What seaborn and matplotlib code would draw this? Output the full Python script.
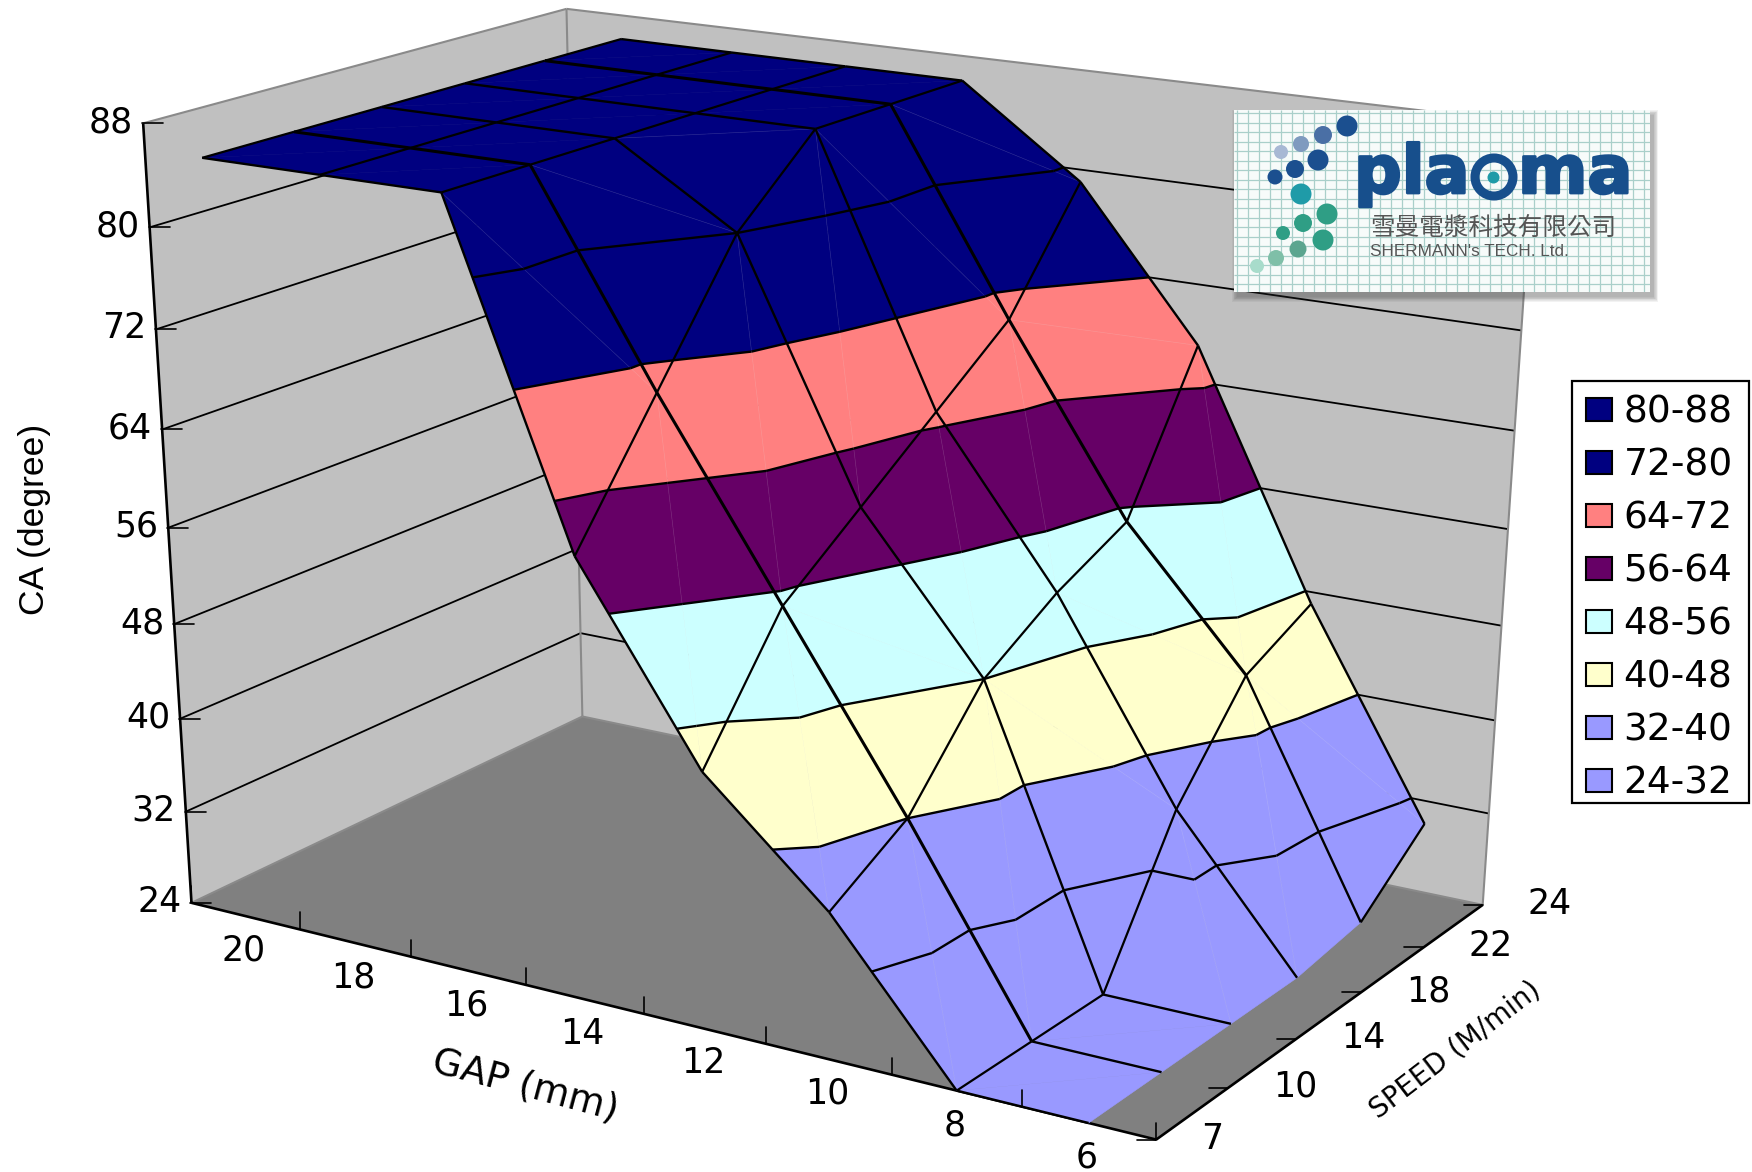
import numpy as np
import matplotlib
matplotlib.use("Agg")
import matplotlib.pyplot as plt
import matplotlib.patheffects as pe
import seaborn as sns
from matplotlib.lines import Line2D
from matplotlib.patches import Patch, Rectangle, Circle
from mpl_toolkits.mplot3d.art3d import Poly3DCollection, Line3DCollection

# ---------- data ----------
gap_labels = ["20", "18", "16", "14", "12", "10", "8", "6"]
speed_labels = ["7", "10", "14", "18", "22", "24"]
z_ticks = [24, 32, 40, 48, 56, 64, 72, 80, 88]
ca_gap20 = [86, 86, 86, 86, 86, 86]
ca_gap18 = [86, 86, 86, 86, 86, 86]
ca_gap16 = [86, 86, 86, 86, 86, 86]
ca_gap14 = [60, 70, 80, 86, 86, 86]
ca_gap12 = [45, 55, 60, 65, 70, 79]
ca_gap10 = [36, 40, 48, 52, 55, 67]
ca_gap8 = [24, 24, 24, 36, 44, 47]
ca_gap6 = [24, 24, 24, 24, 25, 30]
band_edges = [24, 32, 40, 48, 56, 64, 72, 80, 88]
band_labels = ["24-32", "32-40", "40-48", "48-56", "56-64", "64-72", "72-80", "80-88"]
band_hex = ["#9999FF", "#9999FF", "#FFFFCC", "#CCFFFF", "#660066", "#FF8080", "#000080", "#000080"]
# cells of the mesh whose split runs along the other diagonal
anti_cells = {(3, 0), (3, 1), (3, 2), (4, 0), (4, 2), (4, 3), (5, 0), (5, 1), (5, 4), (6, 2), (6, 3)}

sns.set_theme(style="white")
plt.rcParams["font.family"] = ["DejaVu Sans"]
plt.rcParams["text.color"] = "black"
palette = sns.color_palette(band_hex)

W, H = 1752, 1172
fig = plt.figure(figsize=(W / 100, H / 100), dpi=100, facecolor="white")
ax = fig.add_axes([0, -290 / H, 1, W / H], projection="3d", computed_zorder=False)
ax.set_axis_off()
ax.viewLim.intervalx = (0, W)
ax.viewLim.intervaly = (H + 290, -290)

# camera of the original chart: (category x, series y, value z) -> picture pixels
CAM = np.array([
    [0.08439775573498236, 0.07418679600656676, -0.00074465875556180726, 0.17334112370659693],
    [0.01071031469504651, -0.017074316337836227, -0.010002344970270505, 0.9730668587845146],
    [-1.168548023596937e-05, 1.8397452072643904e-05, -9.183627093639086e-07, 0.0008339408072271929]])
M = np.vstack([CAM[0], CAM[1], CAM[2] - np.array([0, 0, 0, 1e-3]), CAM[2]])
ax.get_proj = lambda: M


def px(x, y, z):
    q = CAM @ np.array([x, y, z, 1.0])
    return q[0] / q[2], q[1] / q[2]


XMAX, YMAX = 8, 5
ZLO, ZHI = z_ticks[0], z_ticks[-1]

# ---------- walls and floor ----------
A, B, C, D = (0, 0, ZLO), (XMAX, 0, ZLO), (XMAX, YMAX, ZLO), (0, YMAX, ZLO)
At, Ct, Dt = (0, 0, ZHI), (XMAX, YMAX, ZHI), (0, YMAX, ZHI)
ax.add_collection3d(Poly3DCollection([[A, D, Dt, At], [D, C, Ct, Dt]], facecolors="#C0C0C0",
                                     edgecolors="none", zorder=1))
ax.add_collection3d(Poly3DCollection([[A, B, C, D]], facecolors="#808080", edgecolors="none", zorder=1))
grid = []
for z in z_ticks[1:-1]:
    grid += [[(0, 0, z), (0, YMAX, z)], [(0, YMAX, z), (XMAX, YMAX, z)]]
ax.add_collection3d(Line3DCollection(grid, colors="black", linewidths=1.3, zorder=2))
ax.add_collection3d(Line3DCollection([[At, Dt], [Dt, Ct], [D, Dt], [C, Ct], [A, D], [D, C]],
                                     colors="#8A8A8A", linewidths=1.5, zorder=2))
ax.add_collection3d(Line3DCollection([[A, At], [A, B], [B, C]], colors="black", linewidths=1.9, zorder=2))

# ---------- surface ----------
Z = np.array([ca_gap20, ca_gap18, ca_gap16, ca_gap14, ca_gap12, ca_gap10, ca_gap8, ca_gap6], float)
nL, nS = Z.shape
xs = np.arange(nL) + 0.5
ys = np.arange(nS, dtype=float)


def vertex(i, j):
    return np.array([xs[i], ys[j], Z[i, j]])


tris, diag = [], []
for i in range(nL - 1):
    for j in range(nS - 1):
        a, b, c, d = vertex(i, j), vertex(i + 1, j), vertex(i + 1, j + 1), vertex(i, j + 1)
        sloped = np.ptp(Z[i:i + 2, j:j + 2]) > 0
        if (i, j) in anti_cells:
            tris += [[a, b, d], [b, c, d]]
            if sloped:
                diag.append([tuple(b), tuple(d)])
        else:
            tris += [[a, b, c], [a, c, d]]
            if sloped:
                diag.append([tuple(a), tuple(c)])


def clip(poly, level, keep_above):
    out = []
    n = len(poly)
    for k in range(n):
        p, q = poly[k], poly[(k + 1) % n]
        dp = (p[2] - level) if keep_above else (level - p[2])
        dq = (q[2] - level) if keep_above else (level - q[2])
        if dp >= 0:
            out.append(p)
        if dp * dq < 0:
            out.append(p + (q - p) * dp / (dp - dq))
    return out


polys, faces = [], []
for tri in tris:
    for b in range(len(band_labels)):
        poly = clip(clip(tri, band_edges[b], True), band_edges[b + 1], False)
        if len(poly) >= 3:
            polys.append([tuple(v) for v in poly])
            faces.append(palette[b])
ax.add_collection3d(Poly3DCollection(polys, facecolors=faces, edgecolors=faces, linewidths=0.4, zorder=3))

contours = []
for tri in tris:
    for lev in band_edges[1:-1]:
        pts = []
        for k in range(3):
            p, q = tri[k], tri[(k + 1) % 3]
            dp, dq = p[2] - lev - 1e-6, q[2] - lev - 1e-6
            if dp * dq < 0:
                pts.append(tuple(p + (q - p) * dp / (dp - dq)))
        if len(pts) == 2:
            contours.append(pts)

# the two rows drawn heavier in the original, over the sloped part of the surface
is_heavy = lambda i, j: j in (1, 4) and i <= 5
along_gap = [[tuple(vertex(i, j)), tuple(vertex(i + 1, j))] for j in range(nS) for i in range(nL - 1)
             if not is_heavy(i, j)]
along_gap_heavy = [[tuple(vertex(i, j)), tuple(vertex(i + 1, j))] for j in range(nS) for i in range(nL - 1)
                   if is_heavy(i, j)]
along_speed = [[tuple(vertex(i, j)), tuple(vertex(i, j + 1))] for i in range(nL - 1) for j in range(nS - 1)]
along_speed.append([tuple(vertex(nL - 1, 4)), tuple(vertex(nL - 1, 5))])
ax.add_collection3d(Line3DCollection(diag, colors=[(1, 1, 1, 0.13)], linewidths=0.5, zorder=3.5))
ax.add_collection3d(Line3DCollection(contours, colors="black", linewidths=1.7, zorder=4))
ax.add_collection3d(Line3DCollection(along_gap, colors="black", linewidths=1.7, zorder=4))
ax.add_collection3d(Line3DCollection(along_gap_heavy, colors="black", linewidths=2.2, zorder=4))
ax.add_collection3d(Line3DCollection(along_speed, colors="black", linewidths=1.6, zorder=4))


# ---------- ticks and labels ----------
def tick(x0, y0, x1, y1):
    ax.add_artist(Line2D([x0, x1], [y0, y1], color="black", lw=1.2, transform=ax.transData, zorder=4.2))


TICK_SIZE = 25
for z in z_ticks:
    u, v = px(0, 0, z)
    tick(u - 1, v, u + 20, v)
    ax.text2D(u - 10, v - 1, str(z), transform=ax.transData, ha="right", va="center", fontsize=TICK_SIZE)
for k in range(XMAX + 1):
    u, v = px(k, 0, ZLO)
    tick(u, v, u, v - 17)
for k, lab in enumerate(gap_labels):
    u, v = px(k + 0.5, 0, ZLO)
    ax.text2D(u - 2, v + 34.5, lab, transform=ax.transData, ha="center", va="center", fontsize=TICK_SIZE)
for k, lab in enumerate(speed_labels):
    u, v = px(XMAX, k, ZLO)
    tick(u, v, u - 19, v)
    ax.text2D(u + 45, v - 1, lab, transform=ax.transData, ha="left", va="center", fontsize=TICK_SIZE)

ax.text2D(35, 519, "CA (degree)", transform=ax.transData, rotation=90, ha="center", va="center",
          fontsize=25.5, family=["Liberation Sans", "DejaVu Sans"])
ax.text2D(525, 1086, "GAP (mm)", transform=ax.transData, rotation=-15, ha="center", va="center", fontsize=27,
          rotation_mode="anchor")
ax.text2D(1455, 1050, "SPEED (M/min)", transform=ax.transData, rotation=37.5, ha="center", va="center", fontsize=20,
          rotation_mode="anchor")

# ---------- legend ----------
fig.add_artist(Rectangle((1572, H - 803), 177, 422, transform=None, facecolor="white", edgecolor="black",
                         linewidth=1.6, zorder=9))
handles = [Patch(facecolor=palette[b], edgecolor="black", linewidth=1.5) for b in range(len(band_labels))][::-1]
leg = fig.legend(handles, band_labels[::-1], loc="upper left", bbox_to_anchor=(1586 / W, 1 - 394.5 / H),
                 bbox_transform=fig.transFigure, borderaxespad=0, frameon=False, fontsize=27, handlelength=0.7,
                 handleheight=0.56, handletextpad=0.3, labelspacing=0.453, borderpad=0)
leg.set_zorder(10)

# ---------- logo ----------
L0, L1, T0, T1 = 1234, 1650, 110, 291.7
for k in range(7):
    m = 1 + k * 1.5
    fig.add_artist(Rectangle((L0 + 3 - m / 2, H - T1 - 5 - m / 2), L1 - L0 + m, T1 - T0 + m, transform=None,
                             facecolor="#303030", edgecolor="none", alpha=0.06, zorder=4))
lg = fig.add_axes([L0 / W, 1 - T1 / H, (L1 - L0) / W, (T1 - T0) / H], zorder=5)
lg.set_xlim(L0, L1)
lg.set_ylim(T1, T0)
lg.set_xticks([])
lg.set_yticks([])
for sp in lg.spines.values():
    sp.set_visible(False)
lg.set_facecolor("#F7FBFA")
lg.vlines(np.arange(L0 + 3, L1, 11), T0, T1, color="#A9CFCA", lw=0.9)
lg.hlines(np.arange(T0 + 3, T1, 9.5), L0, L1, color="#A9CFCA", lw=0.9)
dot_x = [1347, 1323, 1301, 1281, 1318, 1295, 1275, 1301, 1327, 1303, 1283, 1323, 1298, 1276, 1257]
dot_y = [126, 135, 144, 152, 160, 169, 177, 194, 214, 223, 233, 240, 249, 258, 266]
dot_d = [21, 18, 16, 14, 21, 18, 15, 21, 21, 18, 14, 21, 17, 16, 14]
dot_c = ["#1B4F8F", "#4A6FA5", "#7F9ABF", "#A8B8D4", "#1B4F8F", "#1B4F8F", "#1B4F8F", "#1F9BA8",
         "#2F9E85", "#2F9E85", "#2F9E85", "#2F9E85", "#5BA58F", "#7FBFA8", "#A8DCCB"]
lg.scatter(dot_x, dot_y, s=[(d * 0.72) ** 2 for d in dot_d], c=dot_c, linewidths=0, zorder=3)
bold = [pe.withStroke(linewidth=2, foreground="#174F8C")]
lg.text(1354, 193, "pla", color="#174F8C", fontsize=48, fontweight="bold", ha="left", va="baseline", zorder=3,
        path_effects=bold)
lg.text(1518, 193, "ma", color="#174F8C", fontsize=48, fontweight="bold", ha="left", va="baseline", zorder=3,
        path_effects=bold)
lg.add_patch(Circle((1494, 177), 19, facecolor="none", edgecolor="#174F8C", lw=6.5, zorder=3))
lg.scatter([1493], [177], s=(12 * 0.72) ** 2, c="#1F9BA8", linewidths=0, zorder=4)
lg.text(1370, 228, "雪曼電漿科技有限公司", color="#555555", fontsize=17.7, ha="left", va="center",
        family=["Noto Sans CJK TC", "DejaVu Sans"], zorder=3)
lg.text(1370, 252, "SHERMANN's TECH. Ltd.", color="#555555", fontsize=12.3, ha="left", va="center",
        family=["Liberation Sans", "DejaVu Sans"], zorder=3)

fig.savefig("out.png", dpi=100, facecolor="white")
